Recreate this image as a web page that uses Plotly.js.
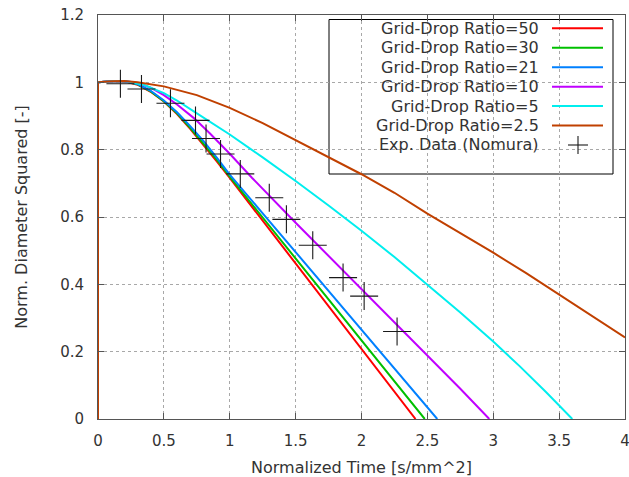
<!DOCTYPE html>
<html>
<head>
<meta charset="utf-8">
<script src="https://cdn.plot.ly/plotly-3.0.1.min.js"></script>
<style>html,body{margin:0;padding:0;background:#fff;}#chart{width:629px;height:477px;}</style>
</head>
<body>
<div id="chart"></div>
<script>
// Series names and colours
const seriesNames = ["Grid-Drop Ratio=50", "Grid-Drop Ratio=30", "Grid-Drop Ratio=21", "Grid-Drop Ratio=10", "Grid-Drop Ratio=5", "Grid-Drop Ratio=2.5"];
const seriesColors = ["#ff0000", "#00c000", "#0080ff", "#c000ff", "#00eeee", "#c04000"];
const expName = "Exp. Data (Nomura)";

// Grid-Drop Ratio = 50
const x50 = [0, 0, 0.1, 0.2, 0.3, 0.4, 0.5, 0.6, 0.7, 0.8, 0.9, 1.0, 1.25, 1.5, 1.75, 2.0, 2.25, 2.41];
const y50 = [0, 1, 1.003, 1.003, 0.993, 0.972, 0.943, 0.906, 0.862, 0.815, 0.766, 0.716, 0.589, 0.462, 0.335, 0.208, 0.081, 0];
// Grid-Drop Ratio = 30
const x30 = [0, 0, 0.1, 0.2, 0.3, 0.4, 0.5, 0.6, 0.7, 0.8, 0.9, 1.0, 1.25, 1.5, 1.75, 2.0, 2.25, 2.48];
const y30 = [0, 1, 1.003, 1.003, 0.994, 0.973, 0.944, 0.908, 0.865, 0.819, 0.771, 0.72, 0.598, 0.477, 0.355, 0.234, 0.112, 0];
// Grid-Drop Ratio = 21
const x21 = [0, 0, 0.1, 0.2, 0.3, 0.4, 0.5, 0.6, 0.7, 0.8, 0.9, 1.0, 1.25, 1.5, 1.75, 2.0, 2.25, 2.5, 2.575];
const y21 = [0, 1, 1.003, 1.003, 0.995, 0.975, 0.946, 0.911, 0.87, 0.826, 0.777, 0.726, 0.611, 0.496, 0.38, 0.265, 0.15, 0.035, 0];
// Grid-Drop Ratio = 10
const x10 = [0, 0, 0.1, 0.2, 0.3, 0.4, 0.5, 0.6, 0.73, 0.85, 1.0, 1.17, 1.5, 1.75, 2.0, 2.25, 2.5, 2.75, 2.97];
const y10 = [0, 1, 1.003, 1.004, 0.998, 0.984, 0.962, 0.934, 0.893, 0.848, 0.788, 0.716, 0.583, 0.484, 0.386, 0.288, 0.19, 0.09, 0];
// Grid-Drop Ratio = 5
const x5 = [0, 0, 0.1, 0.2, 0.25, 0.35, 0.5, 0.6, 0.73, 0.85, 1.0, 1.25, 1.5, 1.75, 2.0, 2.25, 2.5, 2.75, 3.0, 3.2, 3.4, 3.6];
const y5 = [0, 1, 1.003, 1.004, 1.001, 0.992, 0.968, 0.946, 0.913, 0.883, 0.845, 0.777, 0.707, 0.634, 0.559, 0.481, 0.399, 0.316, 0.23, 0.157, 0.08, 0];
// Grid-Drop Ratio = 2.5
const x25 = [0, 0, 0.1, 0.2, 0.3, 0.4, 0.5, 0.75, 1.0, 1.25, 1.5, 1.75, 2.0, 2.25, 2.5, 2.75, 3.0, 3.25, 3.5, 3.75, 4.0];
const y25 = [0, 1, 1.003, 1.004, 1.0, 0.995, 0.988, 0.962, 0.924, 0.879, 0.828, 0.777, 0.727, 0.672, 0.61, 0.552, 0.494, 0.433, 0.37, 0.306, 0.242];

// Experimental data (Nomura)
const xExp = [0.17, 0.33, 0.55, 0.74, 0.82, 0.93, 1.08, 1.30, 1.43, 1.63, 1.86, 2.02, 2.27];
const yExp = [0.996, 0.98, 0.938, 0.887, 0.833, 0.787, 0.728, 0.657, 0.593, 0.516, 0.42, 0.365, 0.26];

// Axis ticks
const xTicks = [0, 0.5, 1, 1.5, 2, 2.5, 3, 3.5, 4];
const yTicks = [0, 0.2, 0.4, 0.6, 0.8, 1, 1.2];

const xs = [x50, x30, x21, x10, x5, x25];
const ys = [y50, y30, y21, y10, y5, y25];

const FONT = "DejaVu Sans, sans-serif";
const TXT = "#333333";

const traces = xs.map((x, i) => ({
  x: x, y: ys[i], type: "scatter", mode: "lines", name: seriesNames[i],
  line: {color: seriesColors[i], width: 2}, showlegend: false, hoverinfo: "skip"
}));
traces.push({
  x: xExp, y: yExp, type: "scatter", mode: "markers", name: expName,
  marker: {symbol: "cross-thin", size: 20, line: {color: "#1a1a1a", width: 1.1}},
  showlegend: false, hoverinfo: "skip"
});

// Plot area in pixels (for placing the legend box in paper coords)
const W = 629, H = 477, L = 98, R = 4, T = 15, B = 58;
const pw = W - L - R, ph = H - T - B;
const px = p => (p - L) / pw;
const py = p => (H - B - p) / ph;

const shapes = [];
const annotations = [];
shapes.push({type: "rect", xref: "paper", yref: "paper", x0: px(329), x1: px(613), y0: py(174), y1: py(19.5),
  line: {color: "#000", width: 1}, fillcolor: "#fff", layer: "between"});
const labels = seriesNames.concat([expName]);
labels.forEach((lab, i) => {
  const yc = 28.3 + 19.45 * i;
  annotations.push({xref: "paper", yref: "paper", x: px(541), y: py(yc), xanchor: "right", yanchor: "middle",
    text: lab, showarrow: false, font: {family: FONT, size: 16, color: TXT}});
  if (i < seriesNames.length) {
    shapes.push({type: "line", xref: "paper", yref: "paper", x0: px(552), x1: px(603), y0: py(yc), y1: py(yc),
      line: {color: seriesColors[i], width: 2}, layer: "above"});
  } else {
    shapes.push({type: "line", xref: "paper", yref: "paper", x0: px(568), x1: px(588), y0: py(yc), y1: py(yc),
      line: {color: "#1a1a1a", width: 1.1}, layer: "above"});
    shapes.push({type: "line", xref: "paper", yref: "paper", x0: px(578), x1: px(578), y0: py(yc - 9), y1: py(yc + 9),
      line: {color: "#1a1a1a", width: 1.1}, layer: "above"});
  }
});

const axisCommon = {
  showline: true, linecolor: "#555", linewidth: 1, mirror: "ticks",
  ticks: "inside", ticklen: 6, tickcolor: "#555", tickwidth: 1,
  showgrid: true, gridcolor: "#a8a8a8", gridwidth: 1, griddash: "dot",
  zeroline: false, tickfont: {family: FONT, size: 15, color: TXT},
  ticklabeloverflow: "allow"
};

const layout = {
  width: W, height: H,
  margin: {l: L, r: R, t: T, b: B, pad: 0},
  paper_bgcolor: "#fff", plot_bgcolor: "#fff",
  showlegend: false,
  xaxis: Object.assign({}, axisCommon, {
    range: [0, 4], tickvals: xTicks, ticktext: xTicks.map(String), ticklabelstandoff: 8,
    title: {text: "Normalized Time [s/mm^2]", font: {family: FONT, size: 16, color: TXT}, standoff: 15}
  }),
  yaxis: Object.assign({}, axisCommon, {
    range: [0, 1.2], tickvals: yTicks, ticktext: yTicks.map(String), ticklabelstandoff: 10,
    title: {text: "Norm. Diameter Squared [-]", font: {family: FONT, size: 16, color: TXT}, standoff: 28}
  }),
  shapes: shapes,
  annotations: annotations
};

Plotly.newPlot("chart", traces, layout, {staticPlot: true, displayModeBar: false});
</script>
</body>
</html>
